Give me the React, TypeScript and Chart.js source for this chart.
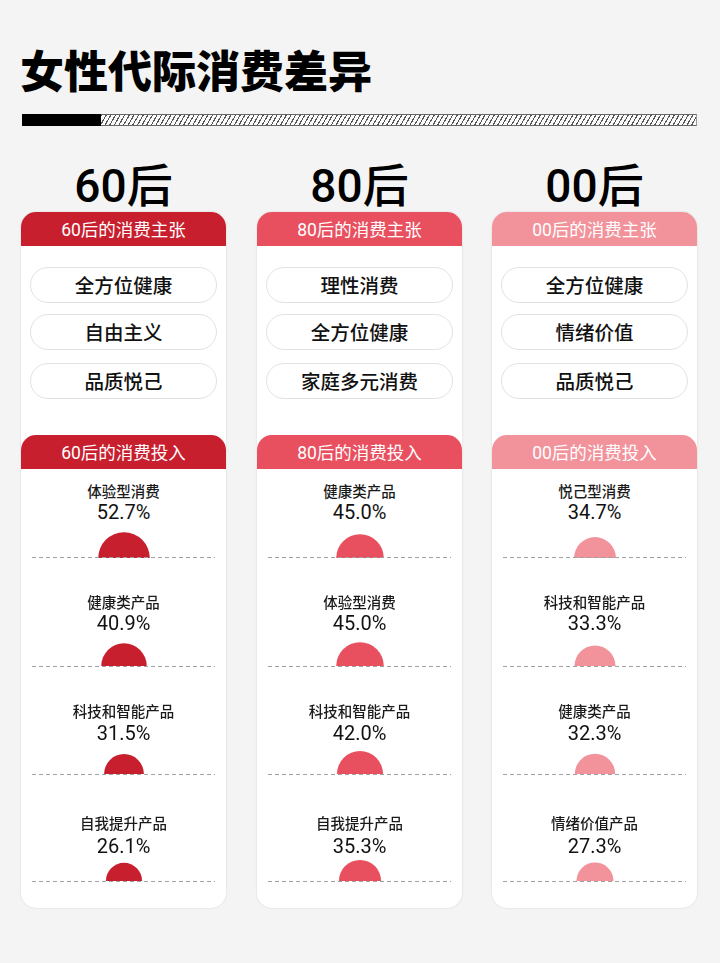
import React, { useEffect, useRef } from "react";
import { Chart, registerables } from "chart.js";

Chart.register(...registerables);

// ---------- data ----------
const TITLE = "女性代际消费差异";
const GENS = ["60后", "80后", "00后"];
const GEN_COLORS = ["#c81f2f", "#e9505f", "#f2939c"];

const PREFS_60 = ["全方位健康", "自由主义", "品质悦己"];
const PREFS_80 = ["理性消费", "全方位健康", "家庭多元消费"];
const PREFS_00 = ["全方位健康", "情绪价值", "品质悦己"];

const SPEND_CATS_60 = ["体验型消费", "健康类产品", "科技和智能产品", "自我提升产品"];
const SPEND_VALS_60 = [52.7, 40.9, 31.5, 26.1];
const SPEND_CATS_80 = ["健康类产品", "体验型消费", "科技和智能产品", "自我提升产品"];
const SPEND_VALS_80 = [45.0, 45.0, 42.0, 35.3];
const SPEND_CATS_00 = ["悦己型消费", "科技和智能产品", "健康类产品", "情绪价值产品"];
const SPEND_VALS_00 = [34.7, 33.3, 32.3, 27.3];

const PREFS = [PREFS_60, PREFS_80, PREFS_00];
const SPEND_CATS = [SPEND_CATS_60, SPEND_CATS_80, SPEND_CATS_00];
const SPEND_VALS = [SPEND_VALS_60, SPEND_VALS_80, SPEND_VALS_00];

// ---------- layout ----------
const CARD_X = [21, 257, 492];
const CARD_W = 205;
const CARD_TOP = 212;
const CARD_BOTTOM = 908;
const HEAD1_TOP = 212;
const HEAD2_TOP = 435;
const HEAD_H = 34;
const PILL_TOPS = [267, 314, 363];
const PILL_H = 36;
const LABEL_Y = [491, 602, 711, 823];
const PCT_Y = [511.5, 623, 732.5, 846];
const BASE_Y = [557.5, 666, 774, 881];
const R_SCALE = 3.55; // radius = R_SCALE * sqrt(value), area-proportional
const PIE_W = 64;
const PIE_H = 30;

const CJK = "'Noto Sans CJK SC', 'Noto Sans', sans-serif";
const NUM = "Roboto, 'Liberation Sans', Arial, 'Noto Sans CJK SC', sans-serif";

function HalfPie({ value, color, label }: { value: number; color: string; label: string }) {
  const ref = useRef<HTMLCanvasElement | null>(null);
  useEffect(() => {
    if (!ref.current) return;
    const r = R_SCALE * Math.sqrt(value);
    const chart = new Chart(ref.current, {
      type: "pie",
      data: {
        labels: [label],
        datasets: [
          {
            data: [value],
            backgroundColor: [color],
            borderWidth: 0,
            radius: r,
            circumference: 180,
            rotation: -90,
          } as any,
        ],
      },
      options: {
        animation: false,
        responsive: false,
        events: [],
        layout: { padding: { top: PIE_H - r, left: 0, right: 0, bottom: 0 } },
        plugins: { legend: { display: false }, tooltip: { enabled: false } },
      },
    });
    return () => chart.destroy();
  }, [value, color, label]);
  return <canvas ref={ref} width={PIE_W} height={PIE_H} style={{ width: PIE_W, height: PIE_H, display: "block" }} />;
}

function CenterText({
  x, y, w, text, size, weight, color, family,
}: { x: number; y: number; w: number; text: string; size: number; weight: number | string; color: string; family: string }) {
  const lh = size;
  return (
    <div
      style={{
        position: "absolute",
        left: x,
        top: y - lh / 2,
        width: w,
        height: lh,
        lineHeight: `${lh}px`,
        textAlign: "center",
        fontSize: size,
        fontWeight: weight as any,
        color,
        fontFamily: family,
        whiteSpace: "nowrap",
      }}
    >
      {text}
    </div>
  );
}

function Column({ idx }: { idx: number }) {
  const x = CARD_X[idx];
  const color = GEN_COLORS[idx];
  const gen = GENS[idx];
  const head = (top: number, text: string) => (
    <div
      style={{
        position: "absolute",
        left: x,
        top,
        width: CARD_W,
        height: HEAD_H,
        background: color,
        borderRadius: "15px 15px 0 0",
        color: "#fff",
        fontSize: 17.5,
        lineHeight: `${HEAD_H}px`,
        textAlign: "center",
        whiteSpace: "nowrap",
      }}
    >
      <span style={{ fontFamily: NUM, fontWeight: 400 }}>{gen.slice(0, 2)}</span>
      <span style={{ fontFamily: CJK, fontWeight: 400 }}>{text}</span>
    </div>
  );
  return (
    <>
      {/* big generation title */}
      <div
        style={{
          position: "absolute",
          left: x,
          top: 182 - 30,
          width: CARD_W,
          height: 60,
          lineHeight: "60px",
          textAlign: "center",
          fontSize: 46,
          color: "#000",
          whiteSpace: "nowrap",
        }}
      >
        <span style={{ fontFamily: NUM, fontWeight: 500 }}>{gen.slice(0, 2)}</span>
        <span style={{ fontFamily: CJK, fontWeight: 500 }}>{gen.slice(2)}</span>
      </div>
      {/* card */}
      <div
        style={{
          position: "absolute",
          left: x,
          top: CARD_TOP,
          width: CARD_W,
          height: CARD_BOTTOM - CARD_TOP,
          background: "#fff",
          borderRadius: 15,
          boxShadow: "0 0 2px rgba(0,0,0,0.15)",
        }}
      />
      {head(HEAD1_TOP, "后的消费主张")}
      {head(HEAD2_TOP, "后的消费投入")}
      {PREFS[idx].map((p, i) => (
        <div
          key={"p" + i}
          style={{
            position: "absolute",
            left: x + 9,
            top: PILL_TOPS[i],
            width: CARD_W - 18,
            height: PILL_H,
            boxSizing: "border-box",
            border: "1px solid #e2e2e2",
            borderRadius: PILL_H / 2,
            background: "#fff",
            textAlign: "center",
            lineHeight: `${PILL_H - 2}px`,
            fontFamily: CJK,
            fontSize: 19.5,
            fontWeight: 500,
            color: "#111",
            whiteSpace: "nowrap",
          }}
        >
          {p}
        </div>
      ))}
      {SPEND_CATS[idx].map((c, i) => {
        const v = SPEND_VALS[idx][i];
        return (
          <React.Fragment key={"s" + i}>
            <CenterText x={x} y={LABEL_Y[i]} w={CARD_W} text={c} size={14.5} weight={500} color="#1a1a1a" family={CJK} />
            <CenterText x={x} y={PCT_Y[i]} w={CARD_W} text={v.toFixed(1) + "%"} size={20} weight={400} color="#111" family={NUM} />
            <div
              style={{
                position: "absolute",
                left: x + CARD_W / 2 - PIE_W / 2 + 0.5,
                top: BASE_Y[i] - PIE_H,
                width: PIE_W,
                height: PIE_H,
              }}
            >
              <HalfPie value={v} color={color} label={c} />
            </div>
            <div
              style={{
                position: "absolute",
                left: x + 11,
                top: BASE_Y[i] - 0.5,
                width: CARD_W - 22,
                height: 1,
                background: "repeating-linear-gradient(to right, #a0a0a0 0 4px, transparent 4px 7px)",
              }}
            />
          </React.Fragment>
        );
      })}
    </>
  );
}

export default function App() {
  return (
    <div
      style={{
        position: "absolute",
        left: 0,
        top: 0,
        width: 720,
        height: 963,
        background: "#f4f4f4",
        overflow: "hidden",
      }}
    >
      <div
        style={{
          position: "absolute",
          left: 20,
          top: 69 - 30,
          height: 60,
          lineHeight: "60px",
          fontFamily: CJK,
          fontWeight: 900,
          fontSize: 44,
          color: "#000",
          whiteSpace: "nowrap",
        }}
      >
        {TITLE}
      </div>
      {/* stripe */}
      <div style={{ position: "absolute", left: 22, top: 114, width: 79, height: 12, background: "#000" }} />
      <div
        style={{
          position: "absolute",
          left: 101,
          top: 114,
          width: 596,
          height: 12,
          boxSizing: "border-box",
          borderTop: "1px solid #666",
          borderBottom: "1px solid #666",
          borderRight: "1px solid #999",
          background: "repeating-linear-gradient(120deg, #555 0 1.1px, #fafafa 1.1px 4px)",
        }}
      />
      {GENS.map((_, i) => (
        <Column key={i} idx={i} />
      ))}
    </div>
  );
}
